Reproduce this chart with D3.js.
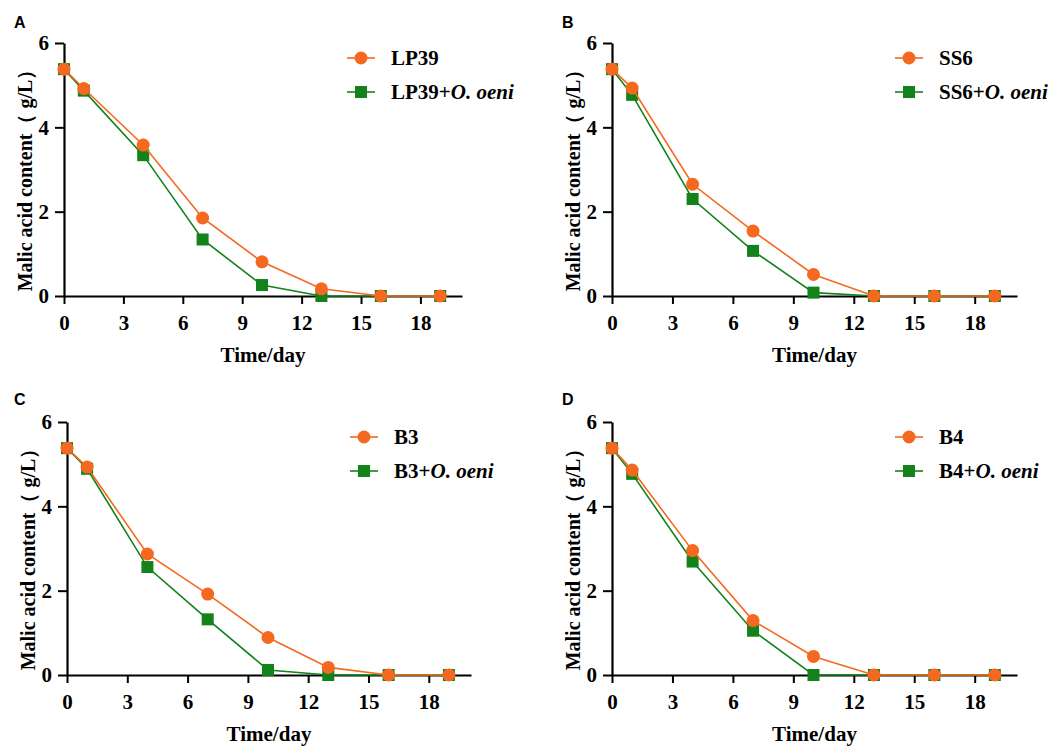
<!DOCTYPE html>
<html>
<head>
<meta charset="utf-8">
<script src="https://cdn.jsdelivr.net/npm/d3@7"></script>
<style>
  body { margin: 0; background: #fff; }
  svg { display: block; }
  .tick text { font-family: "Liberation Serif", "Times New Roman", serif; font-weight: bold; }
</style>
</head>
<body>
<div id="chart"></div>
<script>
// data
const days = [0, 1, 4, 7, 10, 13, 16, 19];
const xTicks = [0, 3, 6, 9, 12, 15, 18];
const yTicks = [0, 2, 4, 6];

const strains = ["LP39", "SS6", "B3", "B4"];
const panelLetters = ["A", "B", "C", "D"];

const lp39 = [5.38, 4.92, 3.58, 1.85, 0.81, 0.17, 0, 0];
const lp39Oeni = [5.38, 4.87, 3.34, 1.34, 0.26, 0, 0, 0];
const ss6 = [5.38, 4.93, 2.65, 1.54, 0.51, 0, 0, 0];
const ss6Oeni = [5.38, 4.77, 2.3, 1.07, 0.08, 0, 0, 0];
const b3 = [5.38, 4.93, 2.87, 1.92, 0.89, 0.18, 0, 0];
const b3Oeni = [5.38, 4.89, 2.56, 1.32, 0.12, 0, 0, 0];
const b4 = [5.38, 4.86, 2.95, 1.29, 0.44, 0, 0, 0];
const b4Oeni = [5.38, 4.77, 2.69, 1.05, 0, 0, 0, 0];

const alone = [lp39, ss6, b3, b4];
const withOeni = [lp39Oeni, ss6Oeni, b3Oeni, b4Oeni];

const orange = "#f4691f";
const green = "#13821a";
const serif = "'Liberation Serif', 'Times New Roman', serif";
const fs = "21px";

// panel layout: y-axis x, x-axis end, top (y=6), bottom (y=0)
const panels = [
  { x0: 64, x1: 462, top: 43, bottom: 296, lx: 14, ly: 28 },
  { x0: 612, x1: 1017, top: 43, bottom: 296, lx: 562, ly: 28 },
  { x0: 67, x1: 471, top: 422, bottom: 675, lx: 14, ly: 405 },
  { x0: 612, x1: 1017, top: 422, bottom: 675, lx: 562, ly: 405 }
];

const svg = d3.select("#chart").append("svg")
  .attr("width", 1053)
  .attr("height", 746)
  .style("background", "#fff");

panels.forEach((p, i) => {
  const g = svg.append("g");
  const x = d3.scaleLinear().domain([0, 20.1]).range([p.x0, p.x1]);
  const y = d3.scaleLinear().domain([0, 6]).range([p.bottom, p.top]);

  // axes
  const xAxis = g.append("g")
    .attr("transform", `translate(0,${p.bottom})`)
    .call(d3.axisBottom(x).tickValues(xTicks).tickFormat(d3.format("d"))
      .tickSize(8).tickPadding(11).tickSizeOuter(0));
  const yAxis = g.append("g")
    .attr("transform", `translate(${p.x0},0)`)
    .call(d3.axisLeft(y).tickValues(yTicks).tickFormat(d3.format("d"))
      .tickSize(9).tickPadding(6).tickSizeOuter(0));
  [xAxis, yAxis].forEach(a => {
    a.select(".domain").attr("stroke", "#000").attr("stroke-width", 2.2);
    a.selectAll(".tick line").attr("stroke", "#000").attr("stroke-width", 2);
    a.selectAll(".tick text").attr("fill", "#000").style("font-size", fs);
  });

  // axis titles
  g.append("text")
    .attr("x", (p.x0 + p.x1) / 2)
    .attr("y", p.bottom + 66)
    .attr("text-anchor", "middle")
    .style("font-family", serif)
    .style("font-weight", "bold")
    .style("font-size", fs)
    .text("Time/day");

  g.append("text")
    .attr("transform", `translate(${p.x0 - 32},${(p.top + p.bottom) / 2 + 6}) rotate(-90)`)
    .attr("text-anchor", "middle")
    .style("font-family", serif)
    .style("font-weight", "bold")
    .style("font-size", "20px")
    .text("Malic acid content（ g/L）");

  // panel letter
  g.append("text")
    .attr("x", p.lx)
    .attr("y", p.ly)
    .style("font-family", "'Liberation Sans', Arial, sans-serif")
    .style("font-weight", "bold")
    .style("font-size", "16px")
    .text(panelLetters[i]);

  const line = d3.line().x((d, j) => x(days[j])).y(d => y(d));

  // green series (with O. oeni)
  g.append("path")
    .datum(withOeni[i])
    .attr("d", line)
    .attr("fill", "none")
    .attr("stroke", green)
    .attr("stroke-width", 1.6);
  g.selectAll(".sq")
    .data(withOeni[i])
    .join("rect")
    .attr("class", "sq")
    .attr("x", (d, j) => x(days[j]) - 6)
    .attr("y", d => y(d) - 6)
    .attr("width", 12)
    .attr("height", 12)
    .attr("fill", green);

  // orange series
  g.append("path")
    .datum(alone[i])
    .attr("d", line)
    .attr("fill", "none")
    .attr("stroke", orange)
    .attr("stroke-width", 1.6);
  g.selectAll(".dot")
    .data(alone[i])
    .join("circle")
    .attr("class", "dot")
    .attr("cx", (d, j) => x(days[j]))
    .attr("cy", d => y(d))
    .attr("r", 6.5)
    .attr("fill", orange);

  // legend
  const lgX = p.x0 + 283;
  const rows = [
    { color: orange, shape: "circle", name: strains[i], italic: "" },
    { color: green, shape: "square", name: strains[i] + "+", italic: "O. oeni" }
  ];
  rows.forEach((r, k) => {
    const ry = p.top + 15 + k * 34;
    g.append("line")
      .attr("x1", lgX).attr("x2", lgX + 28)
      .attr("y1", ry).attr("y2", ry)
      .attr("stroke", r.color).attr("stroke-width", 1.6);
    if (r.shape === "circle") {
      g.append("circle").attr("cx", lgX + 14).attr("cy", ry).attr("r", 6.5).attr("fill", r.color);
    } else {
      g.append("rect").attr("x", lgX + 8).attr("y", ry - 6).attr("width", 12).attr("height", 12).attr("fill", r.color);
    }
    const t = g.append("text")
      .attr("x", lgX + 44)
      .attr("y", ry + 7)
      .style("font-family", serif)
      .style("font-weight", "bold")
      .style("font-size", fs);
    t.append("tspan").text(r.name);
    if (r.italic) t.append("tspan").style("font-style", "italic").text(r.italic);
  });
});
</script>
</body>
</html>
